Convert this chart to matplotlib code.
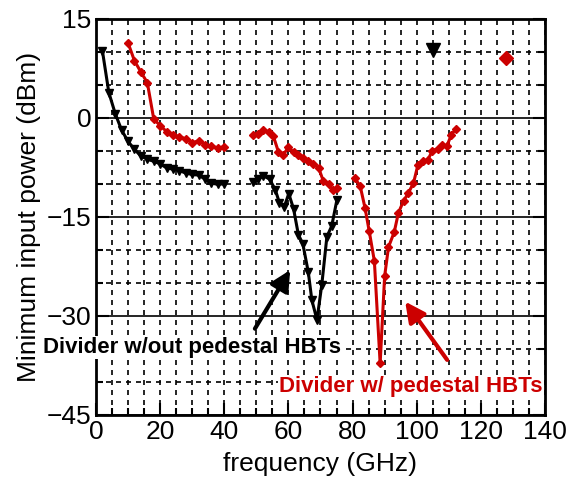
import matplotlib.pyplot as plt
from matplotlib.ticker import MultipleLocator

plt.rcParams["font.family"] = ["Liberation Sans", "DejaVu Sans"]

RED = "#cc0000"

# without pedestal HBTs (black)
f_nopd_lo = [2, 4, 6, 8, 10, 12, 14, 16, 18, 20, 22, 24, 26, 28, 30, 32, 34, 36, 38, 40]
p_nopd_lo = [10.1, 3.8, 0.6, -1.9, -3.6, -4.8, -5.8, -6.3, -6.6, -7.0,
             -7.6, -7.8, -8.0, -8.4, -8.6, -8.7, -9.3, -9.9, -10.1, -10.0]
f_nopd_hi = [49.1, 50.6, 52.2, 54.1, 55.9, 57.2, 58.7, 60.1, 61.6, 63.1,
             64.5, 66.2, 67.3, 68.9, 70.4, 72.0, 73.5, 75.1]
p_nopd_hi = [-9.8, -9.3, -8.8, -9.3, -10.9, -12.9, -13.5, -11.5, -13.8, -17.7,
             -19.1, -23.4, -27.6, -30.6, -25.3, -18.0, -16.4, -12.5]

# with pedestal HBTs (red)
f_pd_lo = [10, 12, 14, 16, 18, 20, 22, 24, 26, 28, 30, 32, 34, 36, 38, 40]
p_pd_lo = [11.3, 8.6, 6.9, 5.3, -0.2, -1.2, -2.1, -2.6, -2.9, -3.2,
           -3.8, -3.5, -4.1, -4.3, -4.6, -4.4]
f_pd_mid = [49.1, 50.6, 52.2, 53.8, 55.3, 56.9, 58.4, 60.0, 61.6, 63.1,
            64.7, 66.2, 67.8, 69.4, 70.9, 72.5, 74.0, 75.3]
p_pd_mid = [-2.7, -2.4, -1.8, -2.2, -2.8, -5.2, -5.6, -4.5, -5.2, -5.7,
            -6.1, -6.6, -7.0, -7.6, -9.6, -10.0, -11.0, -10.6]
f_pd_hi = [80.8, 82.4, 83.9, 85.2, 86.8, 88.6, 90.0, 91.2, 93.0, 94.3, 95.9,
           97.4, 99.0, 100.4, 102.1, 103.5, 104.9, 106.6, 108.0, 109.4, 110.8, 112.2]
p_pd_hi = [-9.2, -10.4, -13.7, -17.2, -21.7, -37.2, -24.0, -19.6, -17.3, -14.4, -12.6,
           -11.4, -9.9, -7.1, -6.6, -6.35, -5.0, -4.7, -4.1, -4.3, -2.6, -1.7]

# leftover legend symbols (no text)
key_nopd = (105, 10.2)
key_pd = (128, 9.1)

fig = plt.figure(figsize=(5.77, 4.88), dpi=100)
ax = fig.add_axes([0.1664, 0.1496, 0.7781, 0.8124])

ax.set_xlim(0, 140)
ax.set_ylim(-45, 15)
ax.xaxis.set_major_locator(MultipleLocator(20))
ax.xaxis.set_minor_locator(MultipleLocator(5))
ax.yaxis.set_major_locator(MultipleLocator(15))
ax.yaxis.set_minor_locator(MultipleLocator(5))

ax.grid(which="minor", axis="both", color="black", linestyle=(0, (3, 3)), linewidth=1.2)
ax.grid(which="major", axis="x", color="black", linestyle=(0, (3, 3)), linewidth=1.2)
ax.grid(which="major", axis="y", color="black", linestyle="-", linewidth=1.2)

ax.tick_params(which="both", direction="in", right=True, top=False, width=1.5,
               labelsize=19)
ax.tick_params(which="major", length=9)
ax.tick_params(which="minor", length=5)
for s in ax.spines.values():
    s.set_linewidth(2)

for f, p in [(f_nopd_lo, p_nopd_lo), (f_nopd_hi, p_nopd_hi)]:
    ax.plot(f, p, color="black", linewidth=2.2, marker="v", markersize=6)
for f, p in [(f_pd_lo, p_pd_lo), (f_pd_mid, p_pd_mid), (f_pd_hi, p_pd_hi)]:
    ax.plot(f, p, color=RED, linewidth=2.2, marker="D", markersize=4.5)

ax.plot(*key_nopd, color="black", marker="v", markersize=10, linestyle="none")
ax.plot(*key_pd, color=RED, marker="D", markersize=7.5, linestyle="none")

ax.annotate("", xy=(61, -22.7), xytext=(49.1, -32.3),
            arrowprops=dict(arrowstyle="-|>,head_length=1.2,head_width=0.6",
                            color="black", lw=3))
ax.annotate("", xy=(95.9, -27.5), xytext=(110, -37),
            arrowprops=dict(arrowstyle="-|>,head_length=1.2,head_width=0.6",
                            color=RED, lw=3))
box = dict(facecolor="white", edgecolor="none", pad=1)
ax.text(30, -34.8, "Divider w/out pedestal HBTs", fontsize=16, fontweight="bold",
        color="black", ha="center", va="center", clip_on=False, bbox=box)
ax.text(98.3, -40.7, "Divider w/ pedestal HBTs", fontsize=16, fontweight="bold",
        color=RED, ha="center", va="center", clip_on=False, bbox=box)

ax.set_xlabel("frequency (GHz)", fontsize=19, labelpad=6)
ax.set_ylabel("Minimum input power (dBm)", fontsize=19, labelpad=4)

fig.savefig("out.png", dpi=100)
